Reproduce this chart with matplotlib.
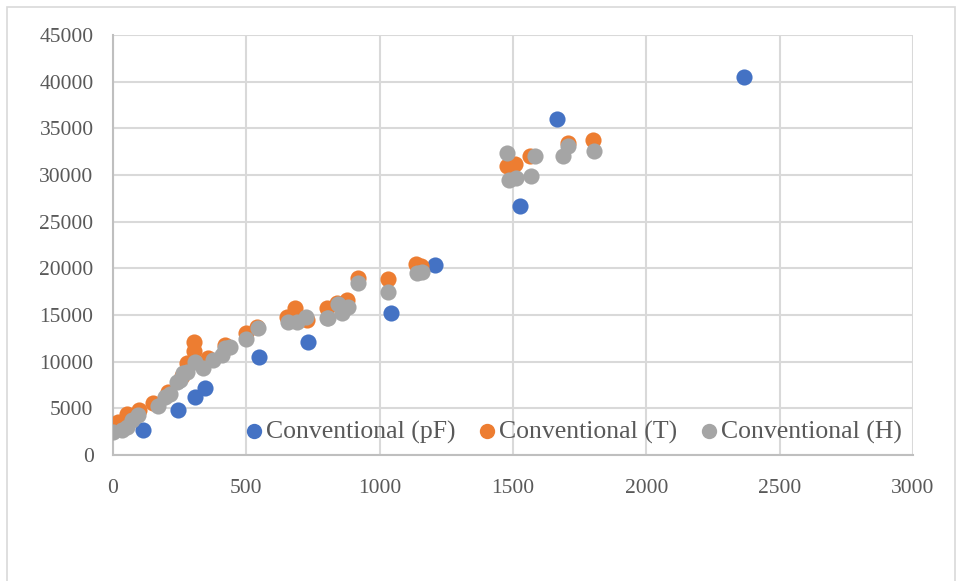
import matplotlib.pyplot as plt
from matplotlib.patches import Rectangle

# Conventional (pF)
pf_x = [112, 244, 307, 345, 547, 731, 1042, 1208, 1526, 1665, 2366]
pf_y = [2680, 4820, 6210, 7180, 10500, 12100, 15200, 20400, 26700, 36000, 40500]

# Conventional (T)
t_x = [0, 19, 52, 97, 150, 206, 259, 277, 304, 304, 356, 420, 431, 499, 540,
       652, 682, 727, 802, 840, 877, 919, 1031, 1136, 1155,
       1477, 1507, 1564, 1707, 1800]
t_y = [3200, 3500, 4400, 4800, 5600, 6700, 8500, 9900, 12100, 11100, 10400, 11800, 11600, 13100, 13700,
       14800, 15800, 14500, 15700, 16300, 16600, 19000, 18900, 20500, 20200,
       31000, 31200, 32000, 33400, 33700]

# Conventional (H)
h_x = [0, 34, 52, 71, 94, 169, 195, 214, 239, 251, 264, 277, 307, 339, 376, 409, 420, 439,
       499, 544, 656, 690, 724, 802, 806, 845, 858, 881, 919, 1031, 1140, 1160,
       1477, 1485, 1511, 1567, 1582, 1689, 1707, 1804]
h_y = [2500, 2700, 3000, 3700, 4300, 5200, 6200, 6500, 7800, 8000, 8800, 8900, 9950, 9300, 10200, 10700, 11500, 11600,
       12400, 13600, 14200, 14200, 14800, 14700, 14700, 16200, 15200, 15900, 18400, 17500, 19500, 19600,
       32400, 29500, 29700, 29900, 32000, 32000, 33100, 32600]

xticks = [0, 500, 1000, 1500, 2000, 2500, 3000]
yticks = list(range(0, 45001, 5000))

plt.rcParams['font.family'] = ['Liberation Serif', 'DejaVu Serif']
txt = '#595959'

fig = plt.figure(figsize=(9.62, 5.81), dpi=100)
ax = fig.add_axes([113 / 962, 1 - 455 / 581, 800 / 962, 420 / 581])

# chart border
fig.patches.append(Rectangle((7 / 962, -0.1), 948 / 962, 1.1 - 7 / 581, transform=fig.transFigure,
                             fill=False, edgecolor='#d9d9d9', linewidth=1.2))

ax.scatter(pf_x, pf_y, s=135, color='#4472C4', label='Conventional (pF)', zorder=3, linewidths=0)
ax.scatter(t_x, t_y, s=135, color='#ED7D31', label='Conventional (T)', zorder=4, linewidths=0)
ax.scatter(h_x, h_y, s=135, color='#A5A5A5', label='Conventional (H)', zorder=5, linewidths=0)

ax.set_xlim(0, 3000)
ax.set_ylim(0, 45000)
ax.set_xticks(xticks)
ax.set_yticks(yticks)
ax.grid(True, color='#d9d9d9', linewidth=1.5)
ax.set_axisbelow(True)
for s in ['top', 'right']:
    ax.spines[s].set_visible(False)
for s in ['left', 'bottom']:
    ax.spines[s].set_color('#bfbfbf')
    ax.spines[s].set_linewidth(1.5)
ax.tick_params(axis='both', length=0, labelsize=15.5, labelcolor=txt)
ax.tick_params(axis='y', pad=14)
ax.tick_params(axis='x', pad=17)

leg = ax.legend(loc='center', bbox_to_anchor=(0.574, 0.055), ncol=3, frameon=False,
                fontsize=18.5, labelcolor=txt, markerscale=0.95, handletextpad=0.0,
                columnspacing=0.8, handlelength=0.9, borderpad=0)

fig.savefig('out.png', dpi=100)
